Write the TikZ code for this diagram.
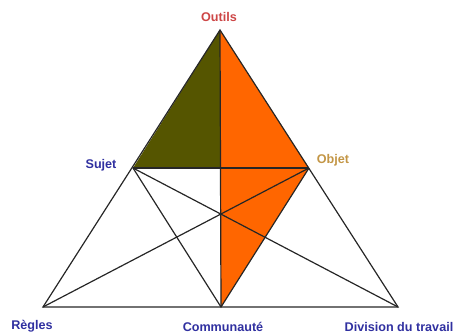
\documentclass[tikz,border=0pt]{standalone}
\usepackage{fontspec}
\setmainfont{Liberation Sans}
\definecolor{olivefill}{RGB}{85,85,0}
\definecolor{orangefill}{RGB}{255,102,0}
\definecolor{labblue}{RGB}{48,48,160}
\definecolor{labred}{RGB}{205,70,70}
\definecolor{labtan}{RGB}{195,150,70}
\begin{document}
\begin{tikzpicture}[x=1pt,y=-1pt,
  edge/.style={draw=black!85,line width=1.2pt},
  lab/.style={font=\bfseries\fontsize{12.6}{14}\selectfont,inner sep=0pt}]
\useasboundingbox (0,0) rectangle (458,336);
\coordinate (O) at (220,30);
\coordinate (S) at (133,168);
\coordinate (B) at (309,168);
\coordinate (R) at (43,307);
\coordinate (C) at (221,307);
\coordinate (D) at (398,307);
\coordinate (M) at (220.3,168);
% fills
\fill[olivefill] (O) -- (S) -- (M) -- cycle;
\fill[orangefill] (O) -- (B) -- (C) -- cycle;
% lines
\draw[edge] (O) -- (R) -- (D) -- cycle;
\draw[edge] (S) -- (B);
\draw[edge] (O) -- (C);
\draw[edge] (S) -- (C) -- (B);
\draw[edge] (S) -- (D);
\draw[edge] (B) -- (R);
% labels
\node[lab,text=labred] (lo) at (219,17) {Outils};
\node[lab,text=labblue] (ls) at (101,165) {Sujet};
\node[lab,text=labtan] (lb) at (333,160) {Objet};
\node[lab,text=labblue] (lr) at (32,326) {Règles};
\node[lab,text=labblue] (lc) at (223,327) {Communauté};
\node[lab,text=labblue] (ld) at (399,327) {Division du travail};
\end{tikzpicture}
\end{document}
